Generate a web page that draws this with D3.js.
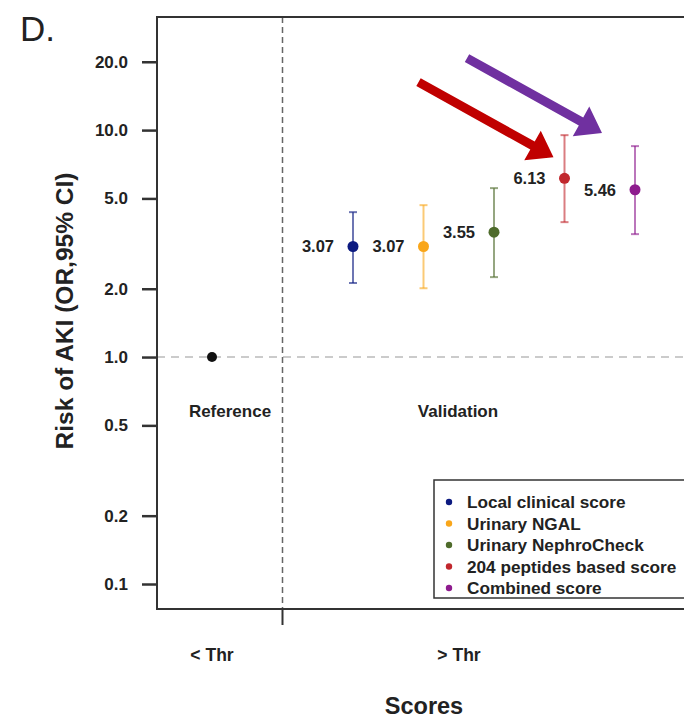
<!DOCTYPE html>
<html>
<head>
<meta charset="utf-8">
<script src="https://cdn.jsdelivr.net/npm/d3@7"></script>
<style>
  body { margin: 0; background: #fff; }
  svg { display: block; font-family: "Liberation Sans", Arial, sans-serif; }
</style>
</head>
<body>
<div id="chart"></div>
<script>
// categories along x ("" is the empty slot where the threshold line sits)
const slots = ["Reference", "", "Local clinical score", "Urinary NGAL", "Urinary NephroCheck", "204 peptides based score", "Combined score"];
const scores = ["Local clinical score", "Urinary NGAL", "Urinary NephroCheck", "204 peptides based score", "Combined score"];
const orValues = [3.07, 3.07, 3.55, 6.13, 5.46];
const ciLow = [2.12, 2.01, 2.25, 3.93, 3.48];
const ciHigh = [4.35, 4.67, 5.55, 9.5, 8.5];
const colors = ["#0c1a80", "#f9a61a", "#4e6b2b", "#c1272d", "#8e1b8e"];
const referenceOR = 1.0;
const yTicks = [0.1, 0.2, 0.5, 1, 2, 5, 10, 20];
const groupLabels = ["Reference", "Validation"];
const thrLabels = ["< Thr", "> Thr"];
// highlight arrows drawn onto two of the scores
const arrowTargets = ["204 peptides based score", "Combined score"];
const arrowColors = ["#c00000", "#7030a0"];

const width = 684, height = 719;
const plotLeft = 157, plotTop = 17, plotBottom = 609, plotRight = 700;

const svg = d3.select("#chart").append("svg")
    .attr("width", width)
    .attr("height", height);

const y = d3.scaleLog().domain([0.0776, 31.5]).range([plotBottom, plotTop]);
const x = d3.scalePoint().domain(slots).range([212, 635]);
const textCol = "#222";

// panel letter
svg.append("text")
    .attr("x", 20).attr("y", 41)
    .attr("font-size", 35)
    .attr("fill", textCol)
    .text("D.");

// reference line at OR = 1
svg.append("line")
    .attr("x1", plotLeft).attr("x2", plotRight)
    .attr("y1", y(referenceOR)).attr("y2", y(referenceOR))
    .attr("stroke", "#bbb").attr("stroke-width", 1.5)
    .attr("stroke-dasharray", "8,6");

// threshold divider
svg.append("line")
    .attr("x1", x("")).attr("x2", x(""))
    .attr("y1", plotTop).attr("y2", plotBottom)
    .attr("stroke", "#666").attr("stroke-width", 1.5)
    .attr("stroke-dasharray", "6,4");
svg.append("line")
    .attr("x1", x("")).attr("x2", x(""))
    .attr("y1", plotBottom).attr("y2", plotBottom + 16)
    .attr("stroke", "#333").attr("stroke-width", 2);

// frame (right side runs off the picture)
svg.append("path")
    .attr("d", `M${plotRight},${plotTop}H${plotLeft}V${plotBottom}H${plotRight}`)
    .attr("fill", "none")
    .attr("stroke", "#333").attr("stroke-width", 2);

// y axis
const yAxis = d3.axisLeft(y)
    .tickValues(yTicks)
    .tickFormat(d3.format(".1f"))
    .tickSize(15)
    .tickPadding(14);
const gy = svg.append("g")
    .attr("transform", `translate(${plotLeft},0)`)
    .call(yAxis);
gy.select(".domain").remove();
gy.selectAll(".tick line").attr("stroke", "#333").attr("stroke-width", 2.5);
gy.selectAll(".tick text")
    .attr("font-size", 17)
    .attr("font-weight", "bold")
    .attr("font-family", "Liberation Sans, Arial, sans-serif")
    .attr("fill", textCol);

// axis titles
svg.append("text")
    .attr("transform", `translate(73,311) rotate(-90)`)
    .attr("text-anchor", "middle")
    .attr("font-size", 24.5)
    .attr("font-weight", "bold")
    .attr("fill", textCol)
    .text("Risk of AKI (OR,95% CI)");

svg.append("text")
    .attr("x", 424).attr("y", 714)
    .attr("text-anchor", "middle")
    .attr("font-size", 23.5)
    .attr("font-weight", "bold")
    .attr("fill", textCol)
    .text("Scores");

// group labels and threshold labels
const midValidation = (x(scores[0]) + x(scores[scores.length - 1])) / 2;
const groupX = [x("Reference") + 18, midValidation - 36];
const thrX = [x("Reference"), midValidation - 35];
svg.selectAll(".group")
    .data(groupLabels)
    .enter().append("text")
    .attr("x", (d, i) => groupX[i])
    .attr("y", 417)
    .attr("text-anchor", "middle")
    .attr("font-size", 17)
    .attr("font-weight", "bold")
    .attr("fill", textCol)
    .text(d => d);

svg.selectAll(".thr")
    .data(thrLabels)
    .enter().append("text")
    .attr("x", (d, i) => thrX[i])
    .attr("y", 661)
    .attr("text-anchor", "middle")
    .attr("font-size", 17.5)
    .attr("font-weight", "bold")
    .attr("fill", textCol)
    .text(d => d);

// reference point
svg.append("circle")
    .attr("cx", x("Reference"))
    .attr("cy", y(referenceOR))
    .attr("r", 5)
    .attr("fill", "#111");

// score points with CI
const rows = scores.map((s, i) => ({
    name: s, or: orValues[i], lo: ciLow[i], hi: ciHigh[i], color: colors[i]
}));

const pt = svg.append("g").selectAll("g")
    .data(rows)
    .enter().append("g");

pt.append("line")
    .attr("x1", d => x(d.name)).attr("x2", d => x(d.name))
    .attr("y1", d => y(d.lo)).attr("y2", d => y(d.hi))
    .attr("stroke", d => d.color).attr("stroke-opacity", 0.6)
    .attr("stroke-width", 2);

[ "lo", "hi" ].forEach(k => {
    pt.append("line")
        .attr("x1", d => x(d.name) - 4).attr("x2", d => x(d.name) + 4)
        .attr("y1", d => y(d[k])).attr("y2", d => y(d[k]))
        .attr("stroke", d => d.color).attr("stroke-opacity", 0.6)
        .attr("stroke-width", 2);
});

pt.append("circle")
    .attr("cx", d => x(d.name))
    .attr("cy", d => y(d.or))
    .attr("r", 5.5)
    .attr("fill", d => d.color);

pt.append("text")
    .attr("x", d => x(d.name) - 19)
    .attr("y", d => y(d.or))
    .attr("dy", "0.35em")
    .attr("text-anchor", "end")
    .attr("font-size", 16.5)
    .attr("font-weight", "bold")
    .attr("fill", textCol)
    .text(d => d3.format(".2f")(d.or));

// arrows pointing at the two highlighted scores
function arrowPath(x0, y0, x1, y1) {
    const dx = x1 - x0, dy = y1 - y0;
    const len = Math.hypot(dx, dy);
    const ux = dx / len, uy = dy / len, px = -uy, py = ux;
    const hw = 4.5, headLen = 24, headW = 17;
    const bx = x1 - ux * headLen, by = y1 - uy * headLen;
    const pts = [
        [x0 + px * hw, y0 + py * hw],
        [bx + px * hw, by + py * hw],
        [bx + px * headW, by + py * headW],
        [x1, y1],
        [bx - px * headW, by - py * headW],
        [bx - px * hw, by - py * hw],
        [x0 - px * hw, y0 - py * hw]
    ];
    return "M" + pts.map(p => p.join(",")).join("L") + "Z";
}

const tipOffsets = [[-11, 22], [-33, -13]];
arrowTargets.forEach((name, i) => {
    const r = rows.find(d => d.name === name);
    const tx = x(name) + tipOffsets[i][0];
    const ty = y(r.hi) + tipOffsets[i][1];
    svg.append("path")
        .attr("d", arrowPath(tx - 135, ty - 75, tx, ty))
        .attr("fill", arrowColors[i]);
});

// legend
const legend = svg.append("g").attr("transform", "translate(434,480)");
legend.append("rect")
    .attr("width", 280).attr("height", 118)
    .attr("fill", "#fff")
    .attr("stroke", "#333").attr("stroke-width", 1.5);
const li = legend.selectAll(".item")
    .data(rows)
    .enter().append("g")
    .attr("transform", (d, i) => `translate(0,${22 + i * 21.5})`);
li.append("circle")
    .attr("cx", 15).attr("cy", 0).attr("r", 3.2)
    .attr("fill", d => d.color);
li.append("text")
    .attr("x", 33).attr("dy", "0.35em")
    .attr("font-size", 17.2)
    .attr("font-weight", "bold")
    .attr("fill", textCol)
    .text(d => d.name);
</script>
</body>
</html>
